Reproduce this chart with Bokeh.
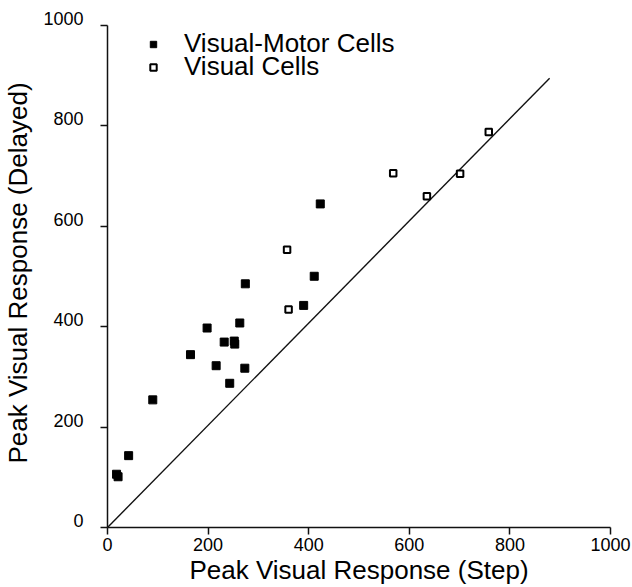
from bokeh.plotting import figure
from bokeh.models import Range1d, Legend, LegendItem, FixedTicker, LinearAxis
from bokeh.embed import file_html
from bokeh.resources import INLINE

# Data
vm_x = [18, 21, 42, 90, 165, 198, 216, 232, 252, 253, 263, 243, 273, 274, 390, 411, 423]
vm_y = [106, 101, 143, 254, 344, 397, 322, 369, 371, 365, 407, 287, 317, 485, 442, 500, 644]

vis_x = [357, 360, 568, 635, 701, 758]
vis_y = [553, 434, 705, 659, 704, 787]

line_x = [0, 879]
line_y = [0, 894]

ticks = [0, 200, 400, 600, 800, 1000]

FONT = "Liberation Sans"
BIG = "26px"

# y range runs a little past 1000 so the raised "1000" label still fits;
# the drawn axis line is bounded to 0..1000
p = figure(width=632, height=587, output_backend="svg", toolbar_location=None,
           x_range=Range1d(0, 1000), y_range=Range1d(0, 1013),
           min_border_left=107, min_border_right=22, min_border_top=18, min_border_bottom=60)
p.outline_line_color = None
p.grid.visible = False

def style(ax):
    ax.ticker = FixedTicker(ticks=ticks)
    ax.minor_tick_line_color = None
    ax.major_tick_in = 0
    ax.major_tick_out = 7
    ax.axis_line_width = 1.5
    ax.major_tick_line_width = 1.5
    ax.axis_line_color = "#111111"
    ax.major_tick_line_color = "#111111"
    ax.major_label_text_font = FONT
    ax.major_label_text_font_size = "18px"
    ax.major_label_text_color = "#000000"
    ax.axis_label_text_font = FONT
    ax.axis_label_text_font_size = BIG
    ax.axis_label_text_font_style = "normal"
    ax.axis_label_text_color = "#000000"

style(p.xaxis[0])
style(p.yaxis[0])

p.xaxis.axis_label = "Peak Visual Response (Step)"
p.xaxis.major_label_standoff = 3
p.xaxis.axis_label_standoff = 1

# main y axis: line and ticks only
p.yaxis[0].bounds = (0, 1000)
p.yaxis[0].major_label_text_color = None
p.yaxis[0].major_label_standoff = 0

# the y tick labels sit a little above their ticks in the reference:
# a second, tick-less left axis on a slightly shifted range carries the labels
p.extra_y_ranges = {"labels": Range1d(-13, 1000)}
ylab = LinearAxis(y_range_name="labels")
style(ylab)
ylab.axis_line_color = None
ylab.major_tick_line_color = None
ylab.major_tick_out = 0
ylab.major_label_standoff = 17
ylab.axis_label = "Peak Visual Response (Delayed)"
ylab.axis_label_standoff = 7
p.add_layout(ylab, "left")

p.line(line_x, line_y, line_color="#111111", line_width=1.4)

r_vm = p.scatter(vm_x, vm_y, marker="square", size=8, fill_color="#000000",
                 line_color="#000000", line_width=1)
r_vis = p.scatter(vis_x, vis_y, marker="square", size=6.5, fill_color="#ffffff",
                  line_color="#000000", line_width=2)

common = dict(glyph_width=16, glyph_height=16, label_standoff=23, spacing=0, padding=0,
              margin=0, border_line_color=None, background_fill_alpha=0,
              label_text_font=FONT, label_text_font_size=BIG, label_text_color="#000000")
leg1 = Legend(items=[LegendItem(label="Visual-Motor Cells", renderers=[r_vm])],
              location=(38, 468), **common)
leg2 = Legend(items=[LegendItem(label="Visual Cells", renderers=[r_vis])],
              location=(38, 445), **common)
p.add_layout(leg1)
p.add_layout(leg2)

open("out.html", "w").write(file_html(p, INLINE))
